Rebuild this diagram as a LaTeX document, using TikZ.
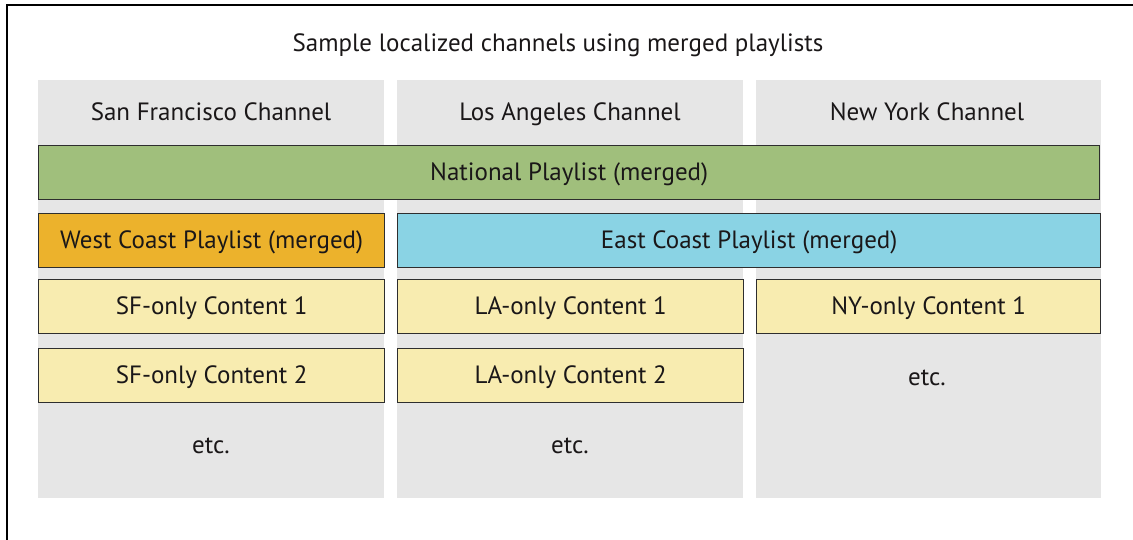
\documentclass[tikz,border=0pt]{standalone}
\usepackage{fontspec}
\setmainfont{PT Sans}
\usepackage{xcolor}
\usetikzlibrary{positioning}

\definecolor{chgrey}{HTML}{E6E6E6}
\definecolor{natgreen}{HTML}{A0BF7C}
\definecolor{westorange}{HTML}{ECB22C}
\definecolor{eastblue}{HTML}{8AD3E4}
\definecolor{localyellow}{HTML}{F8ECB0}
\definecolor{edgegrey}{HTML}{2E2E2E}
\definecolor{inkblack}{HTML}{1A1718}

\tikzset{
  chcol/.style={fill=chgrey, draw=none, anchor=north west, inner sep=0pt,
    minimum width=346pt, minimum height=418pt},
  plbox/.style={draw=edgegrey, line width=1.4pt, anchor=north west, inner sep=0pt,
    minimum height=54pt, text=inkblack, font=\fontsize{25}{30}\selectfont,
    text height=17pt, text depth=1pt},
  chtext/.style={font=\fontsize{25}{30}\selectfont, text=inkblack, inner sep=0pt, anchor=base}
}

\begin{document}
\begin{tikzpicture}[x=1pt, y=-1pt]

    % frame and bounding box
    \useasboundingbox (0,0) rectangle (1133,540);
    \draw[line width=1.5pt] (7,540) -- (7,5) -- (1133,5);

    % title
    \node[chtext] (title) at (558,52) {Sample localized channels using merged playlists};

    % channel columns
    \node[chcol] (sfcol) at (38,80) {};
    \node[chcol] (lacol) at (397,80) {};
    \node[chcol, minimum width=345pt] (nycol) at (756,80) {};

    % channel headers
    \node[chtext] (sfhead) at (211,121) {San Francisco Channel};
    \node[chtext] (lahead) at (570,121) {Los Angeles Channel};
    \node[chtext] (nyhead) at (927,121) {New York Channel};

    % merged playlists
    \node[plbox, fill=natgreen, minimum width=1061pt] (national) at (38,145) {National Playlist (merged)};
    \node[plbox, fill=westorange, minimum width=346pt] (west) at (38,213) {West Coast Playlist (merged)};
    \node[plbox, fill=eastblue, minimum width=703pt] (east) at (397,213) {East Coast Playlist (merged)};

    % local content
    \node[plbox, fill=localyellow, minimum width=346pt] (sfone) at (38,279) {SF-only Content 1};
    \node[plbox, fill=localyellow, minimum width=346pt] (sftwo) at (38,348) {SF-only Content 2};
    \node[plbox, fill=localyellow, minimum width=346pt] (laone) at (397,279) {LA-only Content 1};
    \node[plbox, fill=localyellow, minimum width=346pt] (latwo) at (397,348) {LA-only Content 2};
    \node[plbox, fill=localyellow, minimum width=344pt] (nyone) at (756,279) {NY-only Content 1};

    % etc.
    \node[chtext] (sfetc) at (211,453) {etc.};
    \node[chtext] (laetc) at (570,453) {etc.};
    \node[chtext] (nyetc) at (927,385) {etc.};

\end{tikzpicture}
\end{document}
